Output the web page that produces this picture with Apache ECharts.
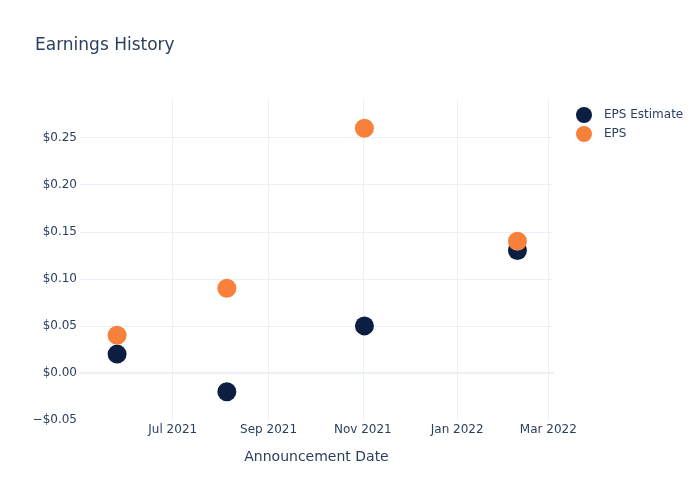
<!DOCTYPE html>
<html><head><meta charset="utf-8">
<script src="https://cdn.jsdelivr.net/npm/echarts@6/dist/echarts.min.js"></script>
<style>html,body{margin:0;padding:0;background:#fff}#c{width:700px;height:500px}</style>
</head><body><div id="c"></div>
<script>
const dates = ['2021-05-26', '2021-08-05', '2021-11-02', '2022-02-09'];
const epsEstimate = [0.02, -0.02, 0.05, 0.13];
const eps = [0.04, 0.09, 0.26, 0.14];
const seriesNames = ['EPS Estimate', 'EPS'];
const xTicks = ['2021-07-01', '2021-09-01', '2021-11-01', '2022-01-01', '2022-03-01'];
const colors = ['#0c1f42', '#f7813a'];
const fmtY = v => (v < 0 ? '\u2212$' : '$') + Math.abs(v).toFixed(2);
const monthNames = ['Jan','Feb','Mar','Apr','May','Jun','Jul','Aug','Sep','Oct','Nov','Dec'];
const ts = s => { const [y, m, d] = s.split('-').map(Number); return new Date(y, m - 1, d).getTime(); };
const xTickVals = xTicks.map(ts);
const chart = echarts.init(document.getElementById('c'), null, {renderer: 'canvas'});
const font = 'DejaVu Sans, Verdana, sans-serif';
chart.setOption({
  animation: false,
  textStyle: {fontFamily: font},
  title: {text: 'Earnings History', left: 30, top: 32,
    textStyle: {fontFamily: font, fontSize: 17, fontWeight: 'normal', color: '#2a3f5f'}},
  legend: {orient: 'vertical', left: 571, top: 102, itemWidth: 30, itemHeight: 16, itemGap: 3,
    icon: 'circle', textStyle: {fontSize: 12, color: '#2a3f5f', fontFamily: font},
    data: seriesNames},
  grid: {left: 80, right: 147, top: 100, bottom: 80},
  xAxis: {type: 'value',
    min: ts('2021-05-02'), max: ts('2022-03-04'),
    name: 'Announcement Date', nameLocation: 'middle', nameGap: 30,
    nameTextStyle: {fontSize: 14, color: '#2a3f5f', fontFamily: font},
    axisLine: {onZero: true, lineStyle: {color: '#ebf0f8', width: 2}},
    axisTick: {show: false, customValues: xTickVals},
    axisLabel: {color: '#2a3f5f', fontSize: 12, margin: 4, customValues: xTickVals,
      formatter: v => { const d = new Date(v); return monthNames[d.getMonth()] + ' ' + d.getFullYear(); }},
    splitLine: {show: false}
  },
  yAxis: {type: 'value', min: -0.05, max: 0.29, interval: 0.05,
    axisLine: {show: false}, axisTick: {show: false},
    axisLabel: {color: '#2a3f5f', fontSize: 12, margin: 3, showMaxLabel: false, formatter: fmtY},
    splitLine: {show: true, showMinLine: false, showMaxLine: false, lineStyle: {color: '#ebf0f8', width: 1}}
  },
  series: [
    {name: 'grid', type: 'scatter', z: 0, data: [],
      markLine: {silent: true, z: 0, symbol: 'none', label: {show: false},
        lineStyle: {color: '#ebf0f8', width: 1, type: 'solid'},
        data: xTickVals.map(v => ({xAxis: v}))}},
    {name: seriesNames[0], type: 'scatter', z: 3, symbolSize: 19, itemStyle: {color: colors[0], opacity: 1},
      data: dates.map((d, i) => [ts(d), epsEstimate[i]])},
    {name: seriesNames[1], type: 'scatter', z: 4, symbolSize: 19, itemStyle: {color: colors[1], opacity: 1},
      data: dates.map((d, i) => [ts(d), eps[i]])}
  ]
});
</script></body></html>
